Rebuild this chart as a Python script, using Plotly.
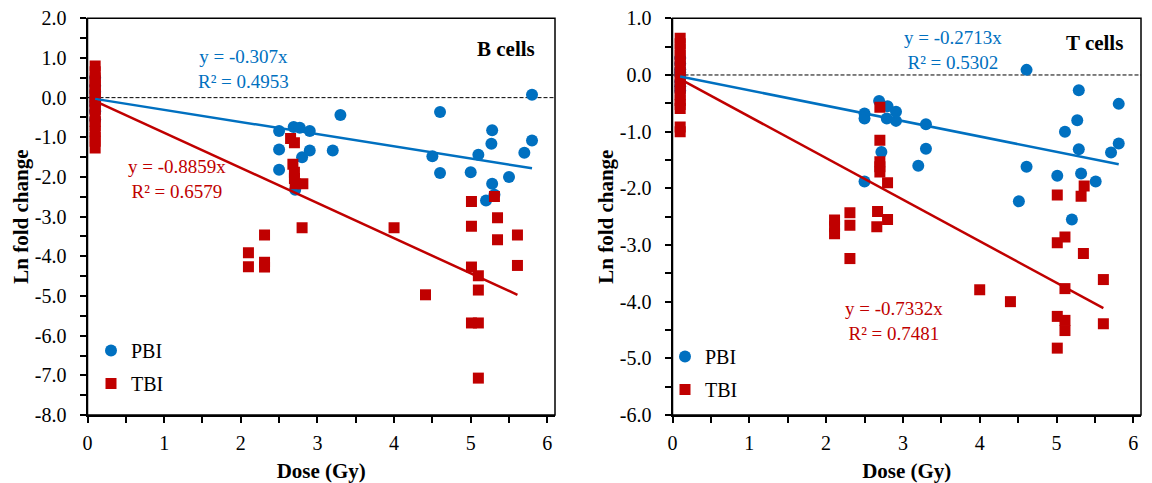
import plotly.graph_objects as go

# ---------------- data ----------------
# B cells
b_pbi_x = [0.1, 0.1, 0.1, 0.1, 0.1, 0.1, 0.1, 0.1, 0.1,
           2.5, 2.5, 2.5, 2.69, 2.77, 2.9, 2.9, 2.8, 2.71, 3.2, 3.3,
           4.6, 4.5, 4.6, 5.0, 5.1, 5.28, 5.27, 5.28, 5.31, 5.2, 5.5, 5.7, 5.8, 5.8]
b_pbi_y = [0.5, 0.3, 0.15, 0.0, -0.1, -0.2, -0.33, -0.35, -0.55,
           -0.84, -1.31, -1.82, -0.74, -0.76, -0.84, -1.33, -1.5, -2.32, -1.33, -0.44,
           -0.36, -1.48, -1.9, -1.88, -1.44, -0.82, -1.16, -2.17, -2.45, -2.59, -2.0, -1.39, -1.08, 0.07]

b_tbi_x = [0.1] * 18 + [2.65, 2.7, 2.68, 2.7, 2.7, 2.71, 2.81, 2.8, 2.1, 2.1, 2.31, 2.31, 2.31,
                        4.0, 4.41, 5.01, 5.01, 5.01, 5.1, 5.1, 5.01, 5.1, 5.1, 5.31, 5.35, 5.35, 5.61, 5.61]
b_tbi_y = [0.8, 0.65, 0.5, 0.4, 0.3, 0.2, 0.1, 0.0, -0.1, -0.2, -0.3, -0.45, -0.6, -0.7, -0.85, -1.0, -1.1, -1.27,
           -1.03, -1.14, -1.68, -1.88, -2.04, -2.17, -2.17, -3.28, -3.91, -4.26, -3.46, -4.15, -4.27,
           -3.28, -4.97, -2.62, -3.24, -4.27, -4.49, -4.85, -5.68, -5.68, -7.07, -2.49, -3.03, -3.58, -3.46, -4.23]

# T cells
t_pbi_x = [0.1] * 8 + [4.61, 5.29, 5.81, 5.27, 5.11, 5.29, 5.81, 5.71, 5.32, 5.51, 5.01, 5.2, 4.61, 4.51,
                       2.69, 2.8, 2.91, 2.5, 2.5, 2.79, 2.91, 3.3, 3.3, 3.2, 2.72, 2.5]
t_pbi_y = [0.3, 0.2, 0.1, 0.05, 0.0, -0.12, -0.2, -0.28,
           0.09, -0.27, -0.51, -0.8, -1.0, -1.31, -1.21, -1.37, -1.74, -1.88, -1.78, -2.55, -1.62, -2.23,
           -0.46, -0.55, -0.65, -0.68, -0.77, -0.77, -0.81, -0.87, -1.3, -1.6, -1.36, -1.88]

t_tbi_x = [0.1] * 16 + [2.7, 2.7, 2.7, 2.7, 2.7, 2.8, 2.31, 2.31, 2.31, 2.11, 2.11, 2.11, 2.67, 2.8, 2.66,
                        4.0, 4.4, 5.01, 5.01, 5.11, 5.11, 5.36, 5.32, 5.35, 5.61, 5.61, 5.01, 5.11, 5.11, 5.01]
t_tbi_y = [0.65, 0.55, 0.45, 0.35, 0.25, 0.15, 0.05, -0.05, -0.15, -0.25, -0.35, -0.45, -0.52, -0.59, -0.92, -1.0,
           -0.57, -1.15, -1.53, -1.62, -1.71, -1.9, -2.43, -2.65, -3.24, -2.56, -2.68, -2.8, -2.41, -2.55, -2.68,
           -3.79, -4.0, -2.12, -2.96, -2.86, -3.77, -1.96, -2.14, -3.15, -3.61, -4.39, -4.26, -4.33, -4.51, -4.82]

# trendline slopes (through origin) and labels
b_pbi_slope, b_pbi_r2 = -0.307, 0.4953
b_tbi_slope, b_tbi_r2 = -0.8859, 0.6579
t_pbi_slope, t_pbi_r2 = -0.2713, 0.5302
t_tbi_slope, t_tbi_r2 = -0.7332, 0.7481

series_names = ["PBI", "TBI"]
panel_titles = ["B cells", "T cells"]
x_ticks = [0, 1, 2, 3, 4, 5, 6]
b_y_ticks = [2, 1, 0, -1, -2, -3, -4, -5, -6, -7, -8]
t_y_ticks = [1, 0, -1, -2, -3, -4, -5, -6]

# ---------------- style ----------------
BLUE = "#0070C0"
RED = "#C00000"
FONT = "Liberation Serif, Times New Roman, serif"
TICK_SIZE = 20
TITLE_SIZE = 21
ANN_SIZE = 19

fig = go.Figure()


def add_panel(xa, ya, legend, px, py, qx, qy, ps, qs):
    fig.add_trace(go.Scatter(x=px, y=py, mode="markers", name=series_names[0],
                             marker=dict(symbol="circle", size=12, color=BLUE),
                             xaxis=xa, yaxis=ya, legend=legend, legendgroup=legend + "a"))
    fig.add_trace(go.Scatter(x=qx, y=qy, mode="markers", name=series_names[1],
                             marker=dict(symbol="square", size=11, color=RED),
                             xaxis=xa, yaxis=ya, legend=legend, legendgroup=legend + "b"))
    for xs, s, c in ((px, ps, BLUE), (qx, qs, RED)):
        lx = [min(xs), max(xs)]
        fig.add_trace(go.Scatter(x=lx, y=[s * v for v in lx], mode="lines",
                                 line=dict(color=c, width=2.5), showlegend=False,
                                 hoverinfo="skip", xaxis=xa, yaxis=ya))


add_panel("x", "y", "legend", b_pbi_x, b_pbi_y, b_tbi_x, b_tbi_y, b_pbi_slope, b_tbi_slope)
add_panel("x2", "y2", "legend2", t_pbi_x, t_pbi_y, t_tbi_x, t_tbi_y, t_pbi_slope, t_tbi_slope)

W, H = 1152, 483
dom_y = [(H - 415) / H, (H - 18.3) / H]
dom_x1 = [87.5 / W, 555 / W]
dom_x2 = [672.5 / W, 1141 / W]

minor_cfg = dict(ticks="outside", ticklen=6, tickwidth=1.5, tickcolor="black", showgrid=False, dtick=0.5, tick0=0)
axis_common = dict(showline=True, linecolor="black", linewidth=2, mirror=False, automargin=False,
                   ticks="outside", ticklen=6, tickwidth=1.5, tickcolor="black",
                   showgrid=False, zeroline=False, minor=minor_cfg,
                   tickfont=dict(family=FONT, size=TICK_SIZE, color="black"))

xtitle = dict(text="<b>Dose (Gy)</b>", font=dict(family=FONT, size=TITLE_SIZE, color="black"), standoff=11)
ytitle = dict(text="<b>Ln fold change</b>", font=dict(family=FONT, size=TITLE_SIZE, color="black"), standoff=0)

fmt = lambda vals: ["%.1f" % v for v in vals]

fig.update_layout(
    width=W, height=H,
    margin=dict(l=0, r=0, t=0, b=0, autoexpand=False),
    paper_bgcolor="white", plot_bgcolor="white",
    font=dict(family=FONT, color="black"),
    xaxis=dict(domain=dom_x1, range=[0, 6.1], tickvals=x_ticks, anchor="y", ticklabelstandoff=3,
               title=xtitle, **axis_common),
    yaxis=dict(domain=dom_y, range=[-8, 2], tickvals=b_y_ticks, ticktext=fmt(b_y_ticks), anchor="x",
               ticklabelstandoff=9, title=ytitle, **axis_common),
    xaxis2=dict(domain=dom_x2, range=[0, 6.1], tickvals=x_ticks, anchor="y2", ticklabelstandoff=3,
                title=xtitle, **axis_common),
    yaxis2=dict(domain=dom_y, range=[-6, 1], tickvals=t_y_ticks, ticktext=fmt(t_y_ticks), anchor="x2",
                ticklabelstandoff=9, title=ytitle, **axis_common),
    legend=dict(x=91 / W, y=(H - 331) / H, xanchor="left", yanchor="top",
                bgcolor="rgba(0,0,0,0)", font=dict(family=FONT, size=TICK_SIZE, color="black"),
                tracegroupgap=4),
    legend2=dict(x=665 / W, y=(H - 337) / H, xanchor="left", yanchor="top",
                 bgcolor="rgba(0,0,0,0)", font=dict(family=FONT, size=TICK_SIZE, color="black"),
                 tracegroupgap=4),
    showlegend=True,
)

# plot-area border and dashed zero line
for xr, yr in (("x", "y"), ("x2", "y2")):
    fig.add_shape(type="rect", xref=xr + " domain", yref=yr + " domain", x0=0, x1=1, y0=0, y1=1,
                  line=dict(color="black", width=1.5), layer="above")
    fig.add_shape(type="line", xref=xr + " domain", yref=yr, x0=0, x1=1, y0=0, y1=0,
                  line=dict(color="black", width=1, dash="4px,2px"), layer="below")


def label(xr, yr, x, y, text, color, bold=False, size=ANN_SIZE):
    fig.add_annotation(x=x, y=y, xref=xr, yref=yr, text=("<b>%s</b>" % text) if bold else text,
                       showarrow=False, font=dict(family=FONT, size=size, color=color),
                       xanchor="center", yanchor="middle", align="center")


label("x", "y", 2.04, 0.73, "y = %gx<br>R² = %.4f" % (b_pbi_slope, b_pbi_r2), BLUE)
label("x", "y", 1.17, -2.05, "y = %gx<br>R² = %.4f" % (b_tbi_slope, b_tbi_r2), RED)
label("x", "y", 5.46, 1.23, panel_titles[0], "black", bold=True, size=TITLE_SIZE)

label("x2", "y2", 3.65, 0.44, "y = %gx<br>R² = %.4f" % (t_pbi_slope, t_pbi_r2), BLUE)
label("x2", "y2", 2.89, -4.35, "y = %gx<br>R² = %.4f" % (t_tbi_slope, t_tbi_r2), RED)
label("x2", "y2", 5.5, 0.56, panel_titles[1], "black", bold=True, size=TITLE_SIZE)

fig.write_html("out.html", config={"displayModeBar": False},
               post_script="document.body.style.margin='0';document.body.style.padding='0';")
